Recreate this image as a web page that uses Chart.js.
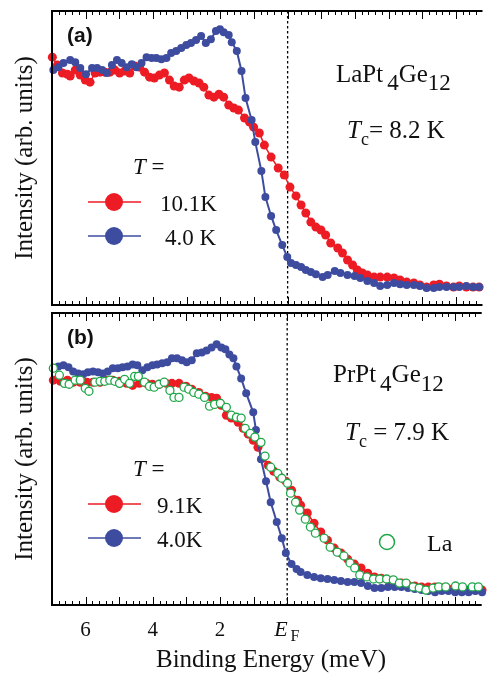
<!DOCTYPE html>
<html>
<head>
<meta charset="utf-8">
<script src="https://cdn.jsdelivr.net/npm/chart.js@4/dist/chart.umd.min.js"></script>
<style>
body { margin: 0; background: #fff; }
#wrap { position: relative; width: 487px; height: 673px; }
#wrap canvas { position: absolute; left: 0; top: 0; }
</style>
</head>
<body>
<div id="wrap">
<canvas id="panelA" width="487" height="673"></canvas>
<canvas id="panelB" width="487" height="673"></canvas>
</div>
<script>
// binding energy in meV (E_F = 0), intensity in arb. units (0..100 per panel)

// panel (a) LaPt4Ge12, 4.0 K
var energyA_4K = [6.96,6.81,6.66,6.46,6.31,6.16,5.99,5.81,5.66,5.51,
  5.37,5.22,5.07,4.93,4.78,4.63,4.49,4.34,4.19,4.04,
  3.90,3.75,3.60,3.46,3.31,3.16,3.01,2.87,2.72,2.57,
  2.43,2.28,2.13,2.01,1.90,1.75,1.66,1.51,1.37,1.25,
  1.07,0.96,0.78,0.66,0.49,0.34,0.16,0.01,-0.10,-0.25,
  -0.40,-0.54,-0.69,-0.84,-1.04,-1.19,-1.40,-1.57,-1.78,-1.99,
  -2.16,-2.37,-2.57,-2.75,-2.96,-3.16,-3.34,-3.54,-3.75,-3.93,
  -4.13,-4.34,-4.51,-4.72,-4.93,-5.10,-5.31,-5.51,-5.69];
var intensA_4K = [79.9,80.9,82.3,83.3,82.6,80.6,78.5,80.6,80.6,79.9,
  78.9,81.6,83.3,82.3,80.9,81.9,80.9,82.3,84.3,84.0,
  84.0,83.6,84.0,85.7,86.4,87.4,88.4,89.1,90.1,91.5,
  89.1,90.4,93.2,93.8,92.8,91.8,89.4,86.4,79.6,70.4,
  62.9,55.4,45.6,36.7,30.3,25.5,20.4,16.3,14.3,13.6,
  12.9,11.9,11.2,10.5,9.5,10.2,11.6,10.9,10.2,9.9,
  9.2,8.2,7.5,6.5,6.8,7.5,7.1,6.8,6.8,6.5,
  5.8,5.8,6.1,6.1,6.1,6.1,6.5,6.1,6.1];

// panel (a) LaPt4Ge12, 10.1 K
var energyA_10K = [6.99,6.84,6.69,6.54,6.46,6.31,6.16,6.01,5.87,5.72,
  5.57,5.43,5.28,5.13,4.99,4.84,4.69,4.54,4.40,4.25,
  4.10,3.96,3.81,3.66,3.51,3.37,3.22,3.07,2.93,2.78,
  2.63,2.49,2.34,2.19,2.04,1.90,1.75,1.60,1.46,1.28,
  1.13,1.01,0.84,0.69,0.49,0.28,0.10,-0.07,-0.25,-0.40,
  -0.54,-0.69,-0.84,-0.99,-1.13,-1.28,-1.49,-1.63,-1.78,-1.93,
  -2.07,-2.22,-2.37,-2.57,-2.75,-2.96,-3.16,-3.34,-3.54,-3.75,
  -3.93,-4.13,-4.34,-4.51,-4.72,-4.93,-5.10,-5.31,-5.51,-5.69];
var intensA_10K = [84.3,81.6,78.9,78.5,77.9,79.9,78.2,76.5,75.8,78.9,
  79.2,79.2,79.2,79.9,78.9,79.6,78.9,81.3,80.9,79.2,
  77.5,77.2,78.2,78.9,76.5,74.5,74.1,76.5,77.2,76.2,
  75.5,74.1,71.4,70.7,71.7,70.7,68.0,67.0,66.3,63.6,
  62.2,60.5,58.5,54.4,50.3,46.6,44.2,40.1,37.1,34.0,
  31.3,28.2,26.5,25.5,23.8,21.1,19.4,17.7,15.3,13.6,
  11.9,10.9,10.2,9.5,9.5,9.5,9.2,8.5,7.8,7.5,
  6.8,6.1,6.8,7.1,6.5,6.1,6.5,6.1,6.1,6.1];

// panel (b) PrPt4Ge12, 4.0 K
var energyB_4K = [6.96,6.81,6.66,6.51,6.37,6.22,6.07,5.93,5.78,5.63,
  5.49,5.34,5.19,5.04,4.90,4.75,4.60,4.46,4.31,4.16,
  4.01,3.87,3.72,3.57,3.43,3.28,3.13,2.99,2.84,2.69,
  2.54,2.40,2.25,2.10,1.96,1.84,1.72,1.60,1.51,1.37,
  1.22,1.01,0.93,0.78,0.63,0.49,0.31,0.16,0.04,-0.13,
  -0.28,-0.4,-0.6,-0.8,-1.0,-1.2,-1.4,-1.6,-1.8,-2.0,
  -2.2,-2.4,-2.6,-2.8,-3.0,-3.2,-3.4,-3.6,-3.8,-4.0,
  -4.2,-4.4,-4.6,-4.8,-5.0,-5.2,-5.4,-5.6,-5.8];
var intensB_4K = [81.1,81.7,82.1,81.4,80.0,79.3,79.0,79.7,80.0,79.7,
  79.3,80.0,81.1,81.1,81.4,81.7,82.4,82.1,80.4,81.4,
  82.1,82.4,82.8,83.1,84.5,84.5,83.8,83.1,83.8,86.2,
  86.5,87.2,88.2,89.3,88.2,87.6,85.8,84.5,81.7,77.6,
  72.5,66.0,59.9,49.9,42.4,35.2,28.4,22.9,17.8,14.0,
  12.3,11.3,10.3,9.6,9.2,8.9,8.6,8.2,7.9,7.9,
  7.5,6.5,5.8,5.8,6.2,6.2,6.2,5.8,5.5,5.1,
  4.8,4.4,4.8,4.8,4.4,4.4,4.4,4.8,4.4];

// panel (b) PrPt4Ge12, 9.1 K
var energyB_9K = [6.96,6.75,6.54,6.37,6.16,5.96,5.78,5.57,5.37,5.19,
  4.99,4.78,4.60,4.40,4.19,4.01,3.81,3.60,3.43,3.22,
  3.01,2.84,2.63,2.43,2.25,2.10,1.96,1.81,1.66,1.46,
  1.31,1.16,1.01,0.87,0.72,0.57,0.40,0.22,0.04,-0.13,
  -0.31,-0.4,-0.6,-0.8,-1.0,-1.2,-1.4,-1.6,-1.8,-2.0,
  -2.2,-2.4,-2.6,-2.8,-3.0,-3.2,-3.4,-3.6,-3.8,-4.0,
  -4.2,-4.4,-4.6,-4.8,-5.0,-5.2,-5.4,-5.6,-5.8];
var intensB_9K = [77.0,76.6,77.0,76.3,76.3,76.3,76.3,76.3,77.0,77.0,
  76.6,75.9,75.2,75.9,75.9,75.6,75.6,75.9,75.9,75.9,
  74.9,73.9,72.8,71.5,71.1,70.8,68.4,65.0,64.0,62.6,
  60.5,58.5,56.4,54.0,50.3,47.9,45.8,43.8,42.4,39.3,
  35.9,34.2,31.5,28.0,25.0,22.2,19.5,17.8,15.7,14.0,
  12.7,10.9,9.6,9.2,8.6,7.9,7.5,6.8,6.5,6.2,
  6.2,6.2,5.8,5.5,5.5,5.5,5.1,5.1,5.1];

// panel (b) LaPt4Ge12 reference (La), open circles
var energyB_La = [6.96,6.78,6.63,6.49,6.31,6.16,6.01,5.90,5.72,5.57,
  5.43,5.28,5.13,4.99,4.84,4.69,4.54,4.43,4.25,4.10,
  3.96,3.81,3.66,3.49,3.37,3.22,3.07,2.93,2.78,2.63,
  2.46,2.31,2.16,1.99,1.81,1.66,1.51,1.37,1.25,1.10,
  0.96,0.78,0.66,0.49,0.28,0.16,-0.01,-0.10,-0.25,-0.37,
  -0.54,-0.69,-0.84,-1.10,-1.28,-1.49,-1.69,-1.87,-2.01,-2.16,
  -2.37,-2.57,-2.75,-2.96,-3.16,-3.34,-3.54,-3.75,-3.93,-4.13,
  -4.34,-4.51,-4.72,-5.01,-5.22,-5.51,-5.69];
var intensB_La = [81.1,78.7,75.9,75.6,77.0,77.0,74.2,73.2,76.3,76.6,
  76.6,77.0,76.6,75.9,77.3,75.9,78.3,78.3,76.3,74.9,
  74.6,75.6,76.3,73.5,71.1,71.1,74.6,73.9,72.8,72.2,
  71.1,68.1,68.7,69.1,67.7,65.0,64.3,64.0,60.5,58.8,
  57.5,55.7,51.0,47.2,45.1,43.4,41.7,38.3,35.2,32.5,
  29.4,26.7,24.6,22.9,19.8,18.1,16.8,14.4,12.7,10.3,
  9.6,8.9,8.9,8.9,8.6,7.5,7.5,6.2,5.8,5.1,
  5.8,6.2,6.2,6.5,6.2,6.2,6.2];

var tickLabelValues = [6, 4, 2];
var labelsA = ['10.1K', '4.0 K'];
var labelsB = ['9.1K', '4.0K'];

var RED = '#ed1c24';
var BLUE = '#3e4ca0';
var GREEN = '#1fa84a';
var SERIF = "'Liberation Serif', 'Times New Roman', serif";
var SANS = "'Liberation Sans', Arial, sans-serif";

function toPoints(xs, ys) {
    var pts = [];
    for (var i = 0; i < xs.length; i++) {
        pts.push({ x: xs[i], y: ys[i] });
    }
    return pts;
}

function drawParts(ctx, x, y, parts) {
    for (var i = 0; i < parts.length; i++) {
        var p = parts[i];
        ctx.font = p.font;
        ctx.fillText(p.text, x + (p.dx || 0), y + (p.dy || 0));
        x += (p.dx || 0) + ctx.measureText(p.text).width;
    }
}

function legendRow(ctx, y, color, label, textX) {
    ctx.strokeStyle = color;
    ctx.lineWidth = 1.5;
    ctx.beginPath();
    ctx.moveTo(88, y);
    ctx.lineTo(141, y);
    ctx.stroke();
    ctx.fillStyle = color;
    ctx.beginPath();
    ctx.arc(114, y, 9, 0, Math.PI * 2);
    ctx.fill();
    ctx.fillStyle = '#111';
    ctx.font = '23px ' + SERIF;
    ctx.textBaseline = 'alphabetic';
    ctx.fillText(label, textX, y + 9);
}

// frame, inward ticks, E_F marker and all texts of a panel
var panelDecor = {
    id: 'panelDecor',
    beforeDatasetsDraw: function(chart, args, opts) {
        var ctx = chart.ctx, a = chart.chartArea;
        var x0 = chart.scales.x.getPixelForValue(0);
        ctx.save();
        ctx.strokeStyle = '#000';
        ctx.lineWidth = 1.3;
        ctx.setLineDash([2.5, 2.5]);
        ctx.beginPath();
        ctx.moveTo(x0, a.top);
        ctx.lineTo(x0, a.bottom);
        ctx.stroke();
        ctx.restore();
    },
    afterDatasetsDraw: function(chart, args, opts) {
        var ctx = chart.ctx, a = chart.chartArea, xs = chart.scales.x;
        ctx.save();
        ctx.strokeStyle = '#000';
        ctx.lineWidth = 1;
        for (var k = -29; k <= 35; k++) {
            var px = Math.round(xs.getPixelForValue(k / 5)) + 0.5;
            if (px < a.left + 2 || px > a.right) continue;
            var len = (k % 5 === 0) ? 8 : 4;
            ctx.beginPath();
            ctx.moveTo(px, a.top);
            ctx.lineTo(px, a.top + len);
            ctx.moveTo(px, a.bottom);
            ctx.lineTo(px, a.bottom - len);
            ctx.stroke();
        }
        ctx.lineWidth = 2;
        ctx.beginPath();
        ctx.moveTo(a.left, a.top);
        ctx.lineTo(a.right, a.top);
        ctx.moveTo(a.left, a.bottom);
        ctx.lineTo(a.right, a.bottom);
        ctx.moveTo(a.left, a.top - 1);
        ctx.lineTo(a.left, a.bottom + 1);
        ctx.stroke();

        // y title
        ctx.fillStyle = '#111';
        ctx.save();
        ctx.translate(32, (a.top + a.bottom) / 2);
        ctx.rotate(-Math.PI / 2);
        ctx.font = '25px ' + SERIF;
        ctx.textAlign = 'center';
        ctx.textBaseline = 'alphabetic';
        ctx.fillText('Intensity (arb. units)', 0, 0);
        ctx.restore();

        // panel letter
        ctx.font = 'bold 21px ' + SANS;
        ctx.textAlign = 'left';
        ctx.fillText(opts.letter, 67, a.top + 31);

        // compound and Tc
        drawParts(ctx, opts.nameX, opts.nameY, opts.name);
        drawParts(ctx, opts.tcX, opts.tcY, opts.tc);

        // legend
        drawParts(ctx, 133, opts.legendY, [
            { text: 'T', font: 'italic 23px ' + SERIF },
            { text: ' =', font: '23px ' + SERIF }
        ]);
        legendRow(ctx, opts.legendY + 28, RED, opts.labels[0], opts.labelX[0]);
        legendRow(ctx, opts.legendY + 62, BLUE, opts.labels[1], opts.labelX[1]);

        if (opts.showLa) {
            ctx.strokeStyle = GREEN;
            ctx.lineWidth = 1.5;
            ctx.fillStyle = '#fff';
            ctx.beginPath();
            ctx.arc(387, 542, 7.5, 0, Math.PI * 2);
            ctx.fill();
            ctx.stroke();
            ctx.fillStyle = '#111';
            ctx.font = '24px ' + SERIF;
            ctx.fillText('La', 427, 551);
        }

        if (opts.showXAxis) {
            ctx.font = '21px ' + SERIF;
            ctx.textAlign = 'center';
            for (var i = 0; i < tickLabelValues.length; i++) {
                ctx.fillText(String(tickLabelValues[i]), xs.getPixelForValue(tickLabelValues[i]), 636);
            }
            ctx.textAlign = 'left';
            var xe = xs.getPixelForValue(0);
            drawParts(ctx, xe - 13, 636, [
                { text: 'E', font: 'italic 22px ' + SERIF },
                { text: 'F', font: '16px ' + SERIF, dy: 5, dx: 3 }
            ]);
            ctx.font = '25px ' + SERIF;
            ctx.textAlign = 'center';
            ctx.fillText('Binding Energy (meV)', 271, 667);
        }
        ctx.restore();
    }
};

function baseOptions(padding, decor) {
    return {
        responsive: false,
        animation: false,
        events: [],
        layout: { padding: padding },
        plugins: {
            legend: { display: false },
            tooltip: { enabled: false },
            panelDecor: decor
        },
        scales: {
            x: { type: 'linear', reverse: true, min: -5.79, max: 7.0, display: false },
            y: { type: 'linear', min: 0, max: 100, display: false }
        }
    };
}

function filledSet(pts, color, radius, lineWidth) {
    return {
        data: pts,
        showLine: true,
        borderColor: color,
        borderWidth: lineWidth,
        backgroundColor: color,
        pointRadius: radius,
        pointBorderWidth: 0,
        pointBackgroundColor: color,
        clip: 8
    };
}

new Chart(document.getElementById('panelA'), {
    type: 'scatter',
    data: {
        datasets: [
            filledSet(toPoints(energyA_4K, intensA_4K), BLUE, 4, 2),
            filledSet(toPoints(energyA_10K, intensA_10K), RED, 4.5, 1.5)
        ]
    },
    options: baseOptions({ left: 52, top: 11, right: 0, bottom: 368 }, {
        letter: '(a)',
        name: [
            { text: 'LaPt', font: '25px ' + SERIF },
            { text: '4', font: '23px ' + SERIF, dy: 8, dx: 4 },
            { text: 'Ge', font: '25px ' + SERIF },
            { text: '12', font: '23px ' + SERIF, dy: 8 }
        ],
        nameX: 336, nameY: 82,
        tc: [
            { text: 'T', font: 'italic 25px ' + SERIF },
            { text: 'c', font: '18px ' + SERIF, dy: 7 },
            { text: '= 8.2 K', font: '25px ' + SERIF }
        ],
        tcX: 347, tcY: 138,
        legendY: 174,
        labels: labelsA,
        labelX: [160, 165],
        showLa: false,
        showXAxis: false
    }),
    plugins: [panelDecor]
});

new Chart(document.getElementById('panelB'), {
    type: 'scatter',
    data: {
        datasets: [
            {
                data: toPoints(energyB_La, intensB_La),
                showLine: false,
                pointRadius: 4,
                pointBorderWidth: 1.3,
                pointBorderColor: GREEN,
                pointBackgroundColor: '#fff',
                clip: 8
            },
            filledSet(toPoints(energyB_4K, intensB_4K), BLUE, 4, 2),
            filledSet(toPoints(energyB_9K, intensB_9K), RED, 4.5, 1.5)
        ]
    },
    options: baseOptions({ left: 52, top: 313, right: 0, bottom: 68 }, {
        letter: '(b)',
        name: [
            { text: 'PrPt', font: '25px ' + SERIF },
            { text: '4', font: '23px ' + SERIF, dy: 9, dx: 4 },
            { text: 'Ge', font: '25px ' + SERIF },
            { text: '12', font: '23px ' + SERIF, dy: 9 }
        ],
        nameX: 333, nameY: 382,
        tc: [
            { text: 'T', font: 'italic 25px ' + SERIF },
            { text: 'c', font: '18px ' + SERIF, dy: 7 },
            { text: ' = 7.9 K', font: '25px ' + SERIF }
        ],
        tcX: 345, tcY: 440,
        legendY: 476,
        labels: labelsB,
        labelX: [157, 157],
        showLa: true,
        showXAxis: true
    }),
    plugins: [panelDecor]
});
</script>
</body>
</html>
